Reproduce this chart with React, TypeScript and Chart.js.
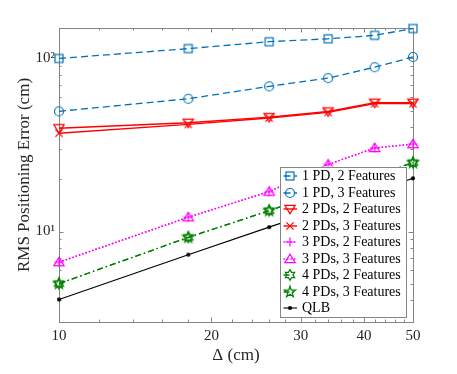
import React, { useEffect, useRef } from 'react';
import { Chart, registerables } from 'chart.js';

Chart.register(...registerables);

// ---- data ----
const xValues = [10, 18, 26, 34, 42, 50];
const onePd2F = [100, 114, 125, 130, 136, 149];
const onePd3F = [49.5, 58.5, 69, 77, 89, 102];
const twoPd2F = [39.5, 42.5, 45.8, 49.4, 55.5, 55.5];
const twoPd3F = [37, 41.6, 45.3, 48.8, 54.8, 54.8];
const threePd2F = [6.65, 12.1, 17, 24.4, 30.4, 32];
const threePd3F = [6.65, 12.1, 17, 24.4, 30.4, 32];
const fourPd2F = [5.0, 9.25, 13.2, 17.3, 21.2, 25];
const fourPd3F = [5.0, 9.25, 13.2, 17.3, 21.2, 25];
const qlb = [4.05, 7.35, 10.6, 13.8, 17.0, 20.3];

const seriesLabels = [
  '1 PD, 2 Features',
  '1 PD, 3 Features',
  '2 PDs, 2 Features',
  '2 PDs, 3 Features',
  '3 PDs, 2 Features',
  '3 PDs, 3 Features',
  '4 PDs, 2 Features',
  '4 PDs, 3 Features',
  'QLB',
];

const xMajorTicks = [10, 20, 30, 40, 50];
const xMinorTicks = [12, 14, 16, 18, 22, 24, 26, 28, 32, 34, 36, 38, 42, 44, 46, 48];
const yMajorTicks = [10, 100];
const yTickLabels = ['10\u00B9', '10\u00B2'];
const yMinorTicks = [3, 4, 5, 6, 7, 8, 9, 20, 30, 40, 50, 60, 70, 80, 90];

const xTitle = '\u0394 (cm)';
const yTitle = 'RMS Positioning Error (cm)';

// ---- styles ----
const BLUE = '#0072BD';
const RED = '#FF0000';
const MAGENTA = '#FF00FF';
const GREEN = '#008000';
const BLACK = '#000000';
const FONT = '"Liberation Serif", "Times New Roman", serif';
const AXIS_COLOR = '#858585';
const TEXT_COLOR = '#262626';

type MarkerKind = 'square' | 'circle' | 'triDown' | 'cross' | 'plus' | 'triUp' | 'hexagram' | 'pentagram' | 'dot';

function starPath(ctx: CanvasRenderingContext2D, n: number, rOut: number, rIn: number) {
  ctx.beginPath();
  for (let i = 0; i < 2 * n; i++) {
    const r = i % 2 === 0 ? rOut : rIn;
    const a = -Math.PI / 2 + (i * Math.PI) / n;
    const px = r * Math.cos(a);
    const py = r * Math.sin(a);
    if (i === 0) ctx.moveTo(px, py);
    else ctx.lineTo(px, py);
  }
  ctx.closePath();
}

function makeMarker(kind: MarkerKind, color: string): HTMLCanvasElement {
  const c = document.createElement('canvas');
  c.width = 16;
  c.height = 16;
  const ctx = c.getContext('2d')!;
  ctx.translate(8, 8);
  ctx.strokeStyle = color;
  ctx.fillStyle = color;
  ctx.lineWidth = 1.2;
  ctx.lineJoin = 'miter';
  switch (kind) {
    case 'square':
      ctx.strokeRect(-4, -4, 8, 8);
      break;
    case 'circle':
      ctx.beginPath();
      ctx.arc(0, 0, 4.5, 0, Math.PI * 2);
      ctx.stroke();
      break;
    case 'triDown':
      ctx.beginPath();
      ctx.moveTo(-5.2, -3.6);
      ctx.lineTo(5.2, -3.6);
      ctx.lineTo(0, 4.8);
      ctx.closePath();
      ctx.stroke();
      break;
    case 'triUp':
      ctx.beginPath();
      ctx.moveTo(-5.2, 3.6);
      ctx.lineTo(5.2, 3.6);
      ctx.lineTo(0, -4.8);
      ctx.closePath();
      ctx.stroke();
      break;
    case 'cross':
      ctx.beginPath();
      ctx.moveTo(-3.6, -3.6);
      ctx.lineTo(3.6, 3.6);
      ctx.moveTo(-3.6, 3.6);
      ctx.lineTo(3.6, -3.6);
      ctx.stroke();
      break;
    case 'plus':
      ctx.beginPath();
      ctx.moveTo(-4.6, 0);
      ctx.lineTo(4.6, 0);
      ctx.moveTo(0, -4.6);
      ctx.lineTo(0, 4.6);
      ctx.stroke();
      break;
    case 'hexagram':
      starPath(ctx, 6, 5.4, 5.4 / Math.sqrt(3));
      ctx.stroke();
      break;
    case 'pentagram':
      starPath(ctx, 5, 5.8, 5.8 * 0.382);
      ctx.stroke();
      break;
    case 'dot':
      ctx.beginPath();
      ctx.arc(0, 0, 2.1, 0, Math.PI * 2);
      ctx.fill();
      break;
  }
  return c;
}

const seriesValues = [onePd2F, onePd3F, twoPd2F, twoPd3F, threePd2F, threePd3F, fourPd2F, fourPd3F, qlb];
const seriesColors = [BLUE, BLUE, RED, RED, MAGENTA, MAGENTA, GREEN, GREEN, BLACK];
const seriesDashes: number[][] = [[7, 4], [7, 4], [], [], [1.5, 2], [1.5, 2], [6, 3, 1.5, 3], [6, 3, 1.5, 3], []];
const seriesWidths = [1.3, 1.3, 1.4, 1.4, 1.4, 1.4, 1.3, 1.3, 1.1];
const seriesMarkers: MarkerKind[] = ['square', 'circle', 'triDown', 'cross', 'plus', 'triUp', 'hexagram', 'pentagram', 'dot'];

export default function App() {
  const canvasRef = useRef<HTMLCanvasElement | null>(null);

  useEffect(() => {
    document.body.style.margin = '0';
    const canvas = canvasRef.current;
    if (!canvas) return;

    const markerImages = seriesMarkers.map((m, i) => makeMarker(m, seriesColors[i]));

    const datasets = seriesValues.map((vals, i) => ({
      label: seriesLabels[i],
      data: xValues.map((x, j) => ({ x, y: vals[j] })),
      borderColor: seriesColors[i],
      backgroundColor: seriesColors[i],
      borderWidth: seriesWidths[i],
      borderDash: seriesDashes[i],
      pointStyle: markerImages[i] as any,
      pointRadius: 4,
      pointHoverRadius: 4,
      tension: 0,
      fill: false,
      clip: false as any,
      order: -i,
    }));

    const framePlugin = {
      id: 'matlabFrame',
      beforeDatasetsDraw(chart: any) {
        const { ctx, chartArea } = chart;
        const xs = chart.scales.x;
        const ys = chart.scales.y;
        const L = chartArea.left, R = chartArea.right, T = chartArea.top, B = chartArea.bottom;
        ctx.save();
        ctx.strokeStyle = AXIS_COLOR;
        ctx.lineWidth = 1;
        ctx.beginPath();
        const major = 4.5, minor = 2.5;
        const tickX = (v: number, len: number) => {
          const px = Math.round(xs.getPixelForValue(v)) + 0.5;
          ctx.moveTo(px, B);
          ctx.lineTo(px, B - len);
          ctx.moveTo(px, T);
          ctx.lineTo(px, T + len);
        };
        const tickY = (v: number, len: number) => {
          const py = Math.round(ys.getPixelForValue(v)) + 0.5;
          ctx.moveTo(L, py);
          ctx.lineTo(L + len, py);
          ctx.moveTo(R, py);
          ctx.lineTo(R - len, py);
        };
        xMajorTicks.forEach((v) => tickX(v, major));
        xMinorTicks.forEach((v) => tickX(v, minor));
        yMajorTicks.forEach((v) => tickY(v, major));
        yMinorTicks.forEach((v) => tickY(v, minor));
        ctx.stroke();
        ctx.strokeRect(Math.round(L) + 0.5, Math.round(T) + 0.5, Math.round(R - L), Math.round(B - T));
        ctx.restore();
      },
    };

    const legendPlugin = {
      id: 'insideLegend',
      afterDraw(chart: any) {
        const { ctx, chartArea } = chart;
        const w = 126;
        const rowH = 16.5;
        const h = 149.5;
        const right = chartArea.right - 7;
        const bottom = chartArea.bottom - 6;
        const left = right - w;
        const top = bottom - h;
        ctx.save();
        ctx.fillStyle = '#ffffff';
        ctx.fillRect(left, top, w, h);
        ctx.strokeStyle = AXIS_COLOR;
        ctx.lineWidth = 1;
        ctx.strokeRect(Math.round(left) + 0.5, Math.round(top) + 0.5, Math.round(w), Math.round(h));
        ctx.font = `14px ${FONT}`;
        ctx.textBaseline = 'middle';
        ctx.textAlign = 'left';
        seriesLabels.forEach((label, i) => {
          const cy = Math.round(top + 9.5 + i * rowH);
          const x0 = left + 3.5;
          const x1 = left + 17;
          ctx.strokeStyle = seriesColors[i];
          ctx.lineWidth = seriesWidths[i];
          ctx.setLineDash(seriesDashes[i]);
          ctx.beginPath();
          ctx.moveTo(x0, cy);
          ctx.lineTo(x1, cy);
          ctx.stroke();
          ctx.setLineDash([]);
          const img = markerImages[i];
          const mx = Math.round((x0 + x1) / 2);
          ctx.drawImage(img, mx - img.width / 2, cy - img.height / 2);
          ctx.fillStyle = '#000000';
          ctx.fillText(label, left + 22, cy + 0.5);
        });
        ctx.restore();
      },
    };

    const chart = new Chart(canvas, {
      type: 'line',
      data: { datasets: datasets as any },
      options: {
        responsive: false,
        animation: false,
        devicePixelRatio: 1,
        layout: { padding: { left: 0, right: 44, top: 28, bottom: 0 } },
        plugins: {
          legend: { display: false },
          tooltip: { enabled: false },
          title: { display: false },
        },
        scales: {
          x: {
            type: 'logarithmic',
            min: 10,
            max: 50,
            afterBuildTicks: (scale: any) => {
              scale.ticks = xMajorTicks.map((v) => ({ value: v }));
            },
            afterFit: (scale: any) => {
              scale.height = 52;
            },
            ticks: {
              autoSkip: false,
              maxRotation: 0,
              padding: 5,
              color: TEXT_COLOR,
              font: { family: FONT, size: 15 },
              callback: (v: any) => String(v),
            },
            grid: { display: false, drawTicks: false },
            border: { display: false },
            title: {
              display: true,
              text: xTitle,
              color: TEXT_COLOR,
              font: { family: FONT, size: 17 },
              padding: { top: 0, bottom: 8 },
            },
          },
          y: {
            type: 'logarithmic',
            min: 3,
            max: 150,
            afterBuildTicks: (scale: any) => {
              scale.ticks = yMajorTicks.map((v) => ({ value: v }));
            },
            afterFit: (scale: any) => {
              scale.width = 59;
            },
            ticks: {
              autoSkip: false,
              padding: 4,
              color: TEXT_COLOR,
              font: { family: FONT, size: 15 },
              callback: (v: any) => {
                const idx = yMajorTicks.indexOf(Number(v));
                return idx >= 0 ? yTickLabels[idx] : '';
              },
            },
            grid: { display: false, drawTicks: false },
            border: { display: false },
            title: {
              display: true,
              text: yTitle,
              color: TEXT_COLOR,
              font: { family: FONT, size: 17 },
              padding: { top: 14, bottom: 0 },
            },
          },
        },
      },
      plugins: [framePlugin, legendPlugin],
    });

    return () => {
      chart.destroy();
    };
  }, []);

  return (
    <div style={{ width: 457, height: 374, background: '#ffffff' }}>
      <canvas ref={canvasRef} width={457} height={374} style={{ display: 'block', width: 457, height: 374 }} />
    </div>
  );
}
